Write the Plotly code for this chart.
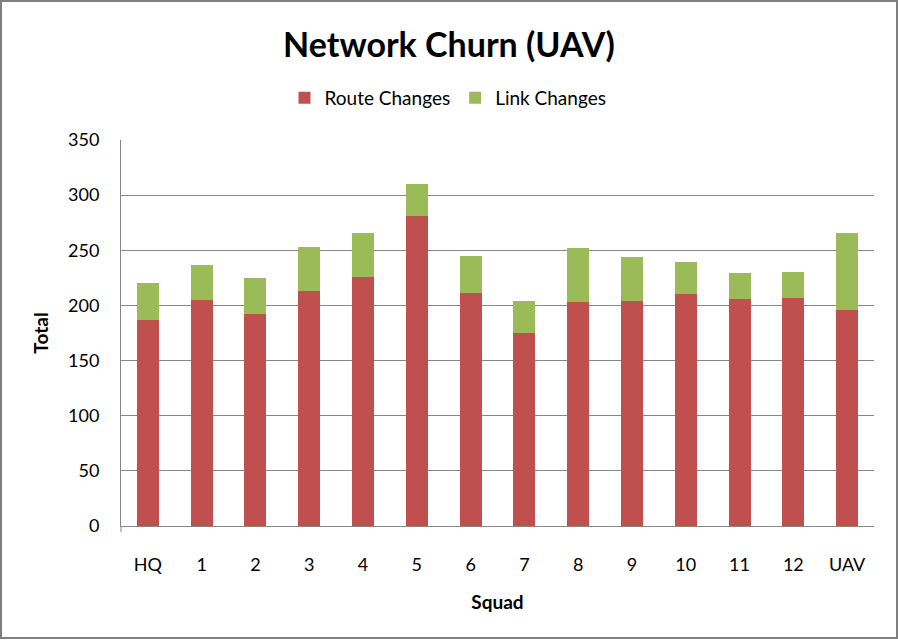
import plotly.graph_objects as go

squads = ["HQ", "1", "2", "3", "4", "5", "6", "7", "8", "9", "10", "11", "12", "UAV"]
route_changes = [187, 205, 192, 213, 226, 281, 211, 175, 203, 204, 210, 206, 207, 196]
link_changes = [33, 32, 33, 40, 40, 29, 34, 29, 49, 40, 29, 23, 23, 70]

FONT = "Lato, 'Open Sans', sans-serif"
GRID = "#868686"

fig = go.Figure()
fig.add_trace(go.Bar(x=squads, y=route_changes, name="Route Changes",
                     marker=dict(color="#C0504D", line=dict(width=0))))
fig.add_trace(go.Bar(x=squads, y=link_changes, name="Link Changes",
                     marker=dict(color="#9BBB59", line=dict(width=0))))

W, H = 898, 640
L, R, T, B = 121, 24, 140, 114
pw, ph = W - L - R, H - T - B

def px_x(p):
    return (p - L) / pw

def px_y(p):
    return (H - B - p) / ph

fig.update_layout(
    width=W, height=H,
    margin=dict(l=L, r=R, t=T, b=B),
    barmode="stack",
    bargap=0.59,
    paper_bgcolor="white",
    plot_bgcolor="white",
    font=dict(family=FONT, size=18, color="black"),
    title=dict(text="<b>Network Churn (UAV)</b>", x=0.5, xanchor="center",
               y=1 - 45 / H, yanchor="middle",
               font=dict(family=FONT, size=34, color="black")),
    legend=dict(orientation="h", x=px_x(448), xanchor="center", y=px_y(98), yanchor="middle",
                font=dict(family=FONT, size=19), itemwidth=30, traceorder="normal",
                bgcolor="rgba(0,0,0,0)"),
    xaxis=dict(
        showline=True, linecolor=GRID, linewidth=1,
        ticks="", showgrid=False, tickfont=dict(size=18),
        ticklabelstandoff=22,
        title=dict(text="<b>Squad</b>", font=dict(size=19), standoff=22),
    ),
    yaxis=dict(
        range=[0, 350], dtick=50, tick0=0,
        showline=True, linecolor=GRID, linewidth=1,
        ticks="", showgrid=True, gridcolor=GRID, gridwidth=1,
        zeroline=False, tickfont=dict(size=18),
        ticklabelstandoff=17,
        title=dict(text="<b>Total</b>", font=dict(size=19), standoff=14),
    ),
    shapes=[
        dict(type="rect", xref="paper", yref="paper",
             x0=px_x(1), x1=px_x(897), y0=px_y(638), y1=px_y(1),
             line=dict(color="#7F7F7F", width=2), fillcolor="rgba(0,0,0,0)",
             layer="below"),
        dict(type="line", xref="paper", yref="paper",
             x0=0, x1=0, y0=0, y1=px_y(532),
             line=dict(color=GRID, width=1)),
    ],
)

fig.write_html("out.html")
